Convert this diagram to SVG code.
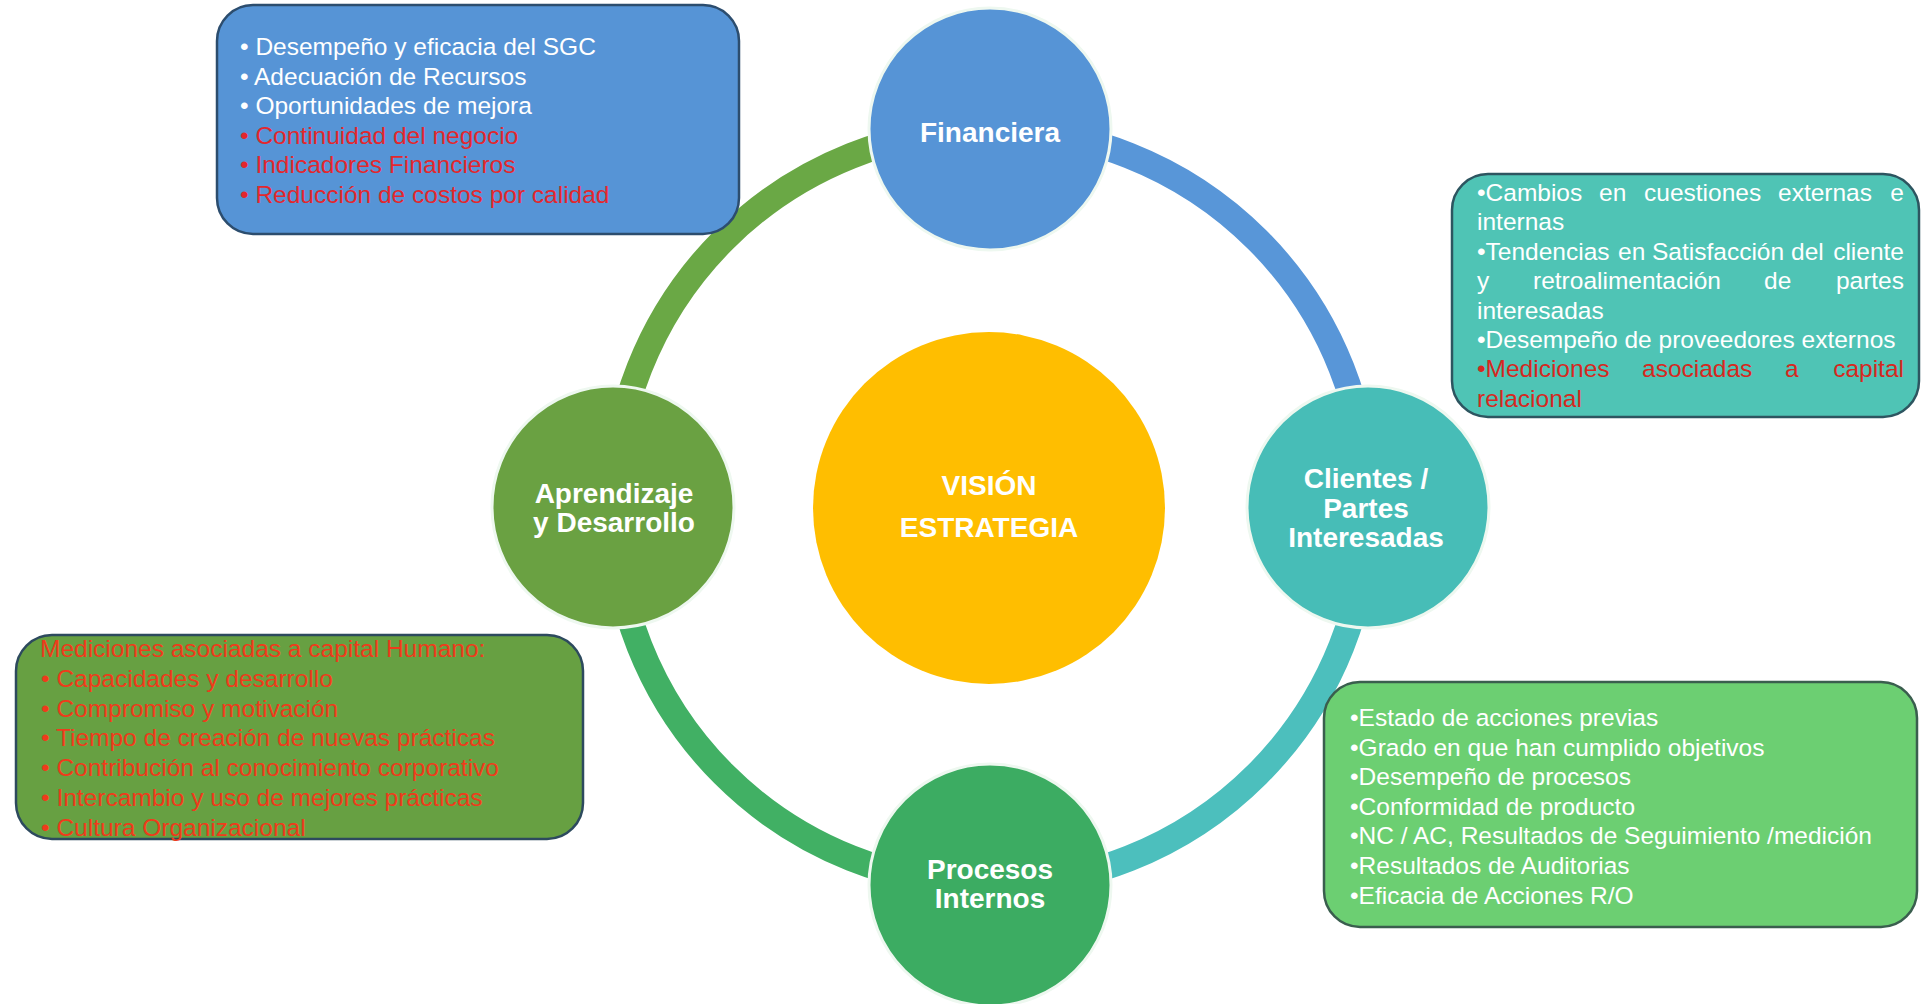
<svg xmlns="http://www.w3.org/2000/svg" width="1921" height="1004" viewBox="0 0 1921 1004">
<style>
.t{font-family:"Liberation Sans",Arial,sans-serif;font-size:24.5px;fill:#ffffff}
.r1{fill:#e3272d}
.r2{fill:#ef3b1b}
.r3{fill:#d6281f}
.n{font-family:"Liberation Sans",Arial,sans-serif;font-size:28px;font-weight:bold;fill:#ffffff;text-anchor:middle}
.arc{fill:none;stroke-width:26}
.node{stroke:#eef8f0;stroke-width:3}
.box{stroke-width:2.5}
</style>
<rect width="1921" height="1004" fill="#ffffff"/>
<g id="connectors">
<path class="arc" stroke="#5896d8" d="M 990 129 A 378 378 0 0 1 1368 507"/>
<path class="arc" stroke="#4cbfbd" d="M 1368 507 A 378 378 0 0 1 990 885"/>
<path class="arc" stroke="#41b064" d="M 990 885 A 378 378 0 0 1 613 507"/>
<path class="arc" stroke="#6aa845" d="M 613 507 A 378 378 0 0 1 990 129"/>
</g>
<g id="box-financiera">
<rect class="box" x="217" y="5" width="522" height="229" rx="36" fill="#5694d6" stroke="#2c4d6e"/>
<text class="t" x="240" y="55">• Desempeño y eficacia del SGC</text>
<text class="t" x="240" y="84.6">• Adecuación de Recursos</text>
<text class="t" x="240" y="114.2">• Oportunidades de mejora</text>
<text class="t r1" x="240" y="143.8">• Continuidad del negocio</text>
<text class="t r1" x="240" y="173.4">• Indicadores Financieros</text>
<text class="t r1" x="240" y="203">• Reducción de costos por calidad</text>
</g>
<g id="box-clientes">
<rect class="box" x="1452" y="174" width="467" height="243" rx="36" fill="#4fc4b5" stroke="#2d5560"/>
<text class="t" y="201"><tspan x="1477">•Cambios</tspan><tspan x="1599">en</tspan><tspan x="1644">cuestiones</tspan><tspan x="1778">externas</tspan><tspan x="1904" text-anchor="end">e</tspan></text>
<text class="t" x="1477" y="230.4">internas</text>
<text class="t" y="259.8"><tspan x="1477">•Tendencias</tspan><tspan x="1618">en</tspan><tspan x="1652">Satisfacción</tspan><tspan x="1791">del</tspan><tspan x="1904" text-anchor="end">cliente</tspan></text>
<text class="t" y="289.2"><tspan x="1477">y</tspan><tspan x="1533">retroalimentación</tspan><tspan x="1764">de</tspan><tspan x="1904" text-anchor="end">partes</tspan></text>
<text class="t" x="1477" y="318.6">interesadas</text>
<text class="t" x="1477" y="348">•Desempeño de proveedores externos</text>
<text class="t r3" y="377.4"><tspan x="1477">•Mediciones</tspan><tspan x="1642">asociadas</tspan><tspan x="1785">a</tspan><tspan x="1904" text-anchor="end">capital</tspan></text>
<text class="t r3" x="1477" y="406.8">relacional</text>
</g>
<g id="box-aprendizaje">
<rect class="box" x="16" y="635" width="567" height="204" rx="36" fill="#67a042" stroke="#2d4a5e"/>
<text class="t r2" x="40" y="657">Mediciones asociadas a capital Humano:</text>
<text class="t r2" x="41" y="686.8">• Capacidades y desarrollo</text>
<text class="t r2" x="41" y="716.6">• Compromiso y motivación</text>
<text class="t r2" x="41" y="746.4">• Tiempo de creación de nuevas prácticas</text>
<text class="t r2" x="41" y="776.2">• Contribución al conocimiento corporativo</text>
<text class="t r2" x="41" y="806">• Intercambio y uso de mejores prácticas</text>
<text class="t r2" x="41" y="835.8">• Cultura Organizacional</text>
</g>
<g id="box-procesos">
<rect class="box" x="1324" y="682" width="593" height="245" rx="36" fill="#6ccf72" stroke="#3a5e4e"/>
<text class="t" x="1350" y="726">•Estado de acciones previas</text>
<text class="t" x="1350" y="755.6">•Grado en que han cumplido objetivos</text>
<text class="t" x="1350" y="785.2">•Desempeño de procesos</text>
<text class="t" x="1350" y="814.8">•Conformidad de producto</text>
<text class="t" x="1350" y="844.4">•NC / AC, Resultados de Seguimiento /medición</text>
<text class="t" x="1350" y="874">•Resultados de Auditorias</text>
<text class="t" x="1350" y="903.6">•Eficacia de Acciones R/O</text>
</g>
<g id="node-vision">
<circle cx="989" cy="508" r="176" fill="#ffbe00"/>
<text class="n" x="989" y="495">VISIÓN</text>
<text class="n" x="989" y="537">ESTRATEGIA</text>
</g>
<g id="node-financiera">
<circle class="node" cx="990" cy="129" r="121" fill="#5694d6"/>
<text class="n" x="990" y="142">Financiera</text>
</g>
<g id="node-clientes">
<circle class="node" cx="1368" cy="507" r="121" fill="#47bdb7"/>
<text class="n" x="1366" y="488">Clientes /</text>
<text class="n" x="1366" y="518">Partes</text>
<text class="n" x="1366" y="547">Interesadas</text>
</g>
<g id="node-procesos">
<circle class="node" cx="990" cy="885" r="121" fill="#3cac62"/>
<text class="n" x="990" y="879">Procesos</text>
<text class="n" x="990" y="908">Internos</text>
</g>
<g id="node-aprendizaje">
<circle class="node" cx="613" cy="507" r="121" fill="#6aa142"/>
<text class="n" x="614" y="503">Aprendizaje</text>
<text class="n" x="614" y="532">y Desarrollo</text>
</g>
</svg>
